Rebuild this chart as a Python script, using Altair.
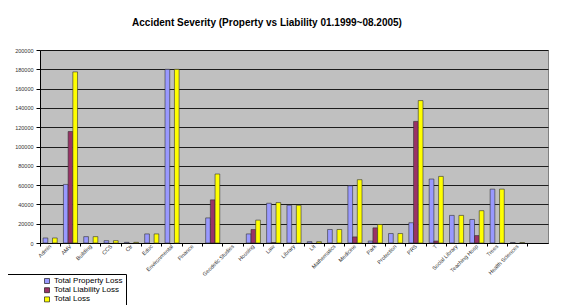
import altair as alt
import pandas as pd

categories = ["Admin", "AMV", "Building", "CCS", "Ctr", "Educ", "Environmental",
              "Finance", " ", "Geodetic Studies", "Housing", "Law", "Library",
              "Lit", "Mathematics", "Medicine", "Park", "Protection", "PRS", "T",
              "Social Library", "Teaching Hosp", "Trees", "Health Sciences", "  "]
property_loss = [5200, 60700, 6600, 2400, 700, 9400, 180000, 0, 26000, 0, 9400, 41200,
                 39100, 1400, 14000, 59300, 2000, 9800, 21000, 66300, 28600, 24400,
                 55800, 500, 0]
liability_loss = [0, 115500, 0, 0, 0, 0, 0, 0, 44700, 0, 14000, 500, 0, 0, 0, 6300,
                  15700, 0, 126000, 2000, 0, 7700, 0, 0, 0]
total_loss = [5200, 177300, 6600, 2400, 700, 9400, 180000, 0, 71500, 0, 23700, 41900,
              39100, 1400, 14000, 65600, 19200, 9800, 147600, 69000, 28600, 33500,
              55800, 500, 0]
series = ["Total Property Loss", "Total Liability Loss", "Total Loss"]
colors = ["#9999ff", "#993366", "#ffff00"]
y_ticks = [0, 20000, 40000, 60000, 80000, 100000, 120000, 140000, 160000, 180000, 200000]

rows = []
for i, c in enumerate(categories):
    for s, vals in zip(series, [property_loss, liability_loss, total_loss]):
        rows.append({"cat": c, "series": s, "value": vals[i]})
df = pd.DataFrame(rows)
cat_df = pd.DataFrame({"cat": categories})

x_scale = alt.Scale(domain=categories, paddingInner=0, paddingOuter=0)

bars = alt.Chart(df).transform_filter("datum.value > 0").mark_bar(
    stroke="#303030", strokeWidth=0.6
).encode(
    x=alt.X("cat:N", sort=categories, scale=x_scale,
            axis=alt.Axis(title=None, labelAngle=-45, labelAlign="right",
                          labelBaseline="middle", labelFontSize=5.5,
                          labelFont="Liberation Sans", labelColor="#333333",
                          ticks=False, domainColor="black", labelPadding=2,
                          labelOverlap=False)),
    xOffset=alt.XOffset("series:N", sort=series,
                        scale=alt.Scale(domain=series, paddingOuter=0.66, paddingInner=0)),
    y=alt.Y("value:Q", scale=alt.Scale(domain=[0, 200000]),
            axis=alt.Axis(values=y_ticks, title=None, format="d", grid=True,
                          gridColor="black", gridOpacity=0.85, labelFontSize=5.5,
                          labelFont="Liberation Sans", labelColor="#333333",
                          tickSize=4, tickColor="black", domainColor="black",
                          labelPadding=3)),
    color=alt.Color("series:N", sort=series,
                    scale=alt.Scale(domain=series, range=colors),
                    legend=alt.Legend(orient="none", legendX=-35, legendY=224,
                                      title=None, strokeColor="black",
                                      fillColor="white", padding=3,
                                      symbolType="square", symbolSize=25,
                                      symbolStrokeColor="black",
                                      symbolStrokeWidth=0.6, labelFontSize=8,
                                      labelFont="Liberation Sans",
                                      labelColor="black", rowPadding=1.2,
                                      symbolOffset=35, labelOffset=3)),
)

ticks_layer = alt.Chart(cat_df).mark_bar(opacity=0).encode(
    x=alt.X("cat:N", sort=categories, scale=x_scale,
            axis=alt.Axis(title=None, labels=False, ticks=True, domain=False,
                          bandPosition=0, tickSize=3, tickColor="black",
                          orient="bottom")),
)

chart = alt.layer(bars, ticks_layer).resolve_axis(x="independent").properties(
    width=508, height=193,
    autosize=alt.AutoSizeParams(type="none"),
    padding={"left": 32, "top": 42, "right": 11, "bottom": 62},
    title=alt.TitleParams("Accident Severity (Property vs Liability 01.1999~08.2005)",
                          fontSize=10, font="Liberation Sans", fontWeight="bold",
                          anchor="middle", dx=-27, offset=20, color="black"),
    background="white",
).configure_view(stroke="#808080", fill="#c0c0c0")

chart.save("out.html", embed_options={"renderer": "svg", "actions": False})
